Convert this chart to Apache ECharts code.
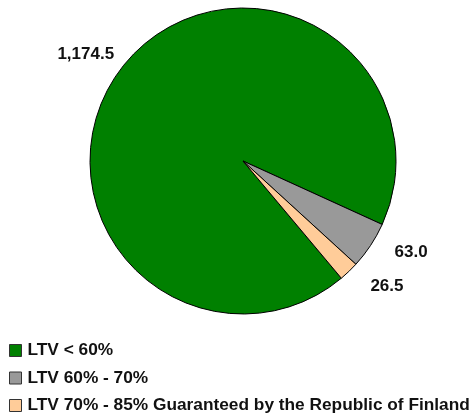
<!DOCTYPE html>
<html>
<head>
<meta charset="utf-8">
<script src="https://cdn.jsdelivr.net/npm/echarts@6/dist/echarts.min.js"></script>
<style>
  html, body { margin: 0; padding: 0; background: #fff; }
  #chart { width: 471px; height: 419px; }
</style>
</head>
<body>
<div id="chart"></div>
<script>
// slice names (legend order) and values
const categories = ['LTV < 60%', 'LTV 60% - 70%', 'LTV 70% - 85% Guaranteed by the Republic of Finland']
const values = [1174.5, 63.0, 26.5]
const sliceColors = ['#008000', '#999999', '#ffcc99']

// label line lengths per slice (line itself hidden, only used to place the label)
const labelReach = [[24, -17], [12, 9], [21, 2]]

const FONT = '"Liberation Sans", Arial, sans-serif'

function fmt(v) {
  return v.toLocaleString('en-US', { minimumFractionDigits: 1, maximumFractionDigits: 1 })
}

const chart = echarts.init(document.getElementById('chart'), null, { renderer: 'canvas' })

const option = {
  animation: false,
  color: sliceColors,
  legend: {
    orient: 'vertical',
    left: 9,
    top: 342,
    padding: 0,
    itemWidth: 12,
    itemHeight: 12,
    itemGap: 10.5,
    icon: 'rect',
    itemStyle: { borderColor: '#333', borderWidth: 1 },
    textStyle: { fontFamily: FONT, fontWeight: 'bold', fontSize: 17.3, color: '#111', lineHeight: 17, padding: [0, 0, 0, 1] },
    data: categories
  },
  series: [
    {
      type: 'pie',
      center: [243, 161],
      radius: 153,
      startAngle: -50,
      clockwise: true,
      avoidLabelOverlap: false,
      itemStyle: { borderColor: '#000', borderWidth: 1 },
      emphasis: { disabled: true },
      label: {
        show: true,
        position: 'outside',
        fontFamily: FONT,
        fontWeight: 'bold',
        fontSize: 17,
        color: '#111',
        formatter: (p) => fmt(p.value)
      },
      labelLine: { show: false },
      data: categories.map((name, i) => ({
        name,
        value: values[i],
        labelLine: { show: false, length: labelReach[i][0], length2: labelReach[i][1] }
      }))
    }
  ]
}

chart.setOption(option)
</script>
</body>
</html>
